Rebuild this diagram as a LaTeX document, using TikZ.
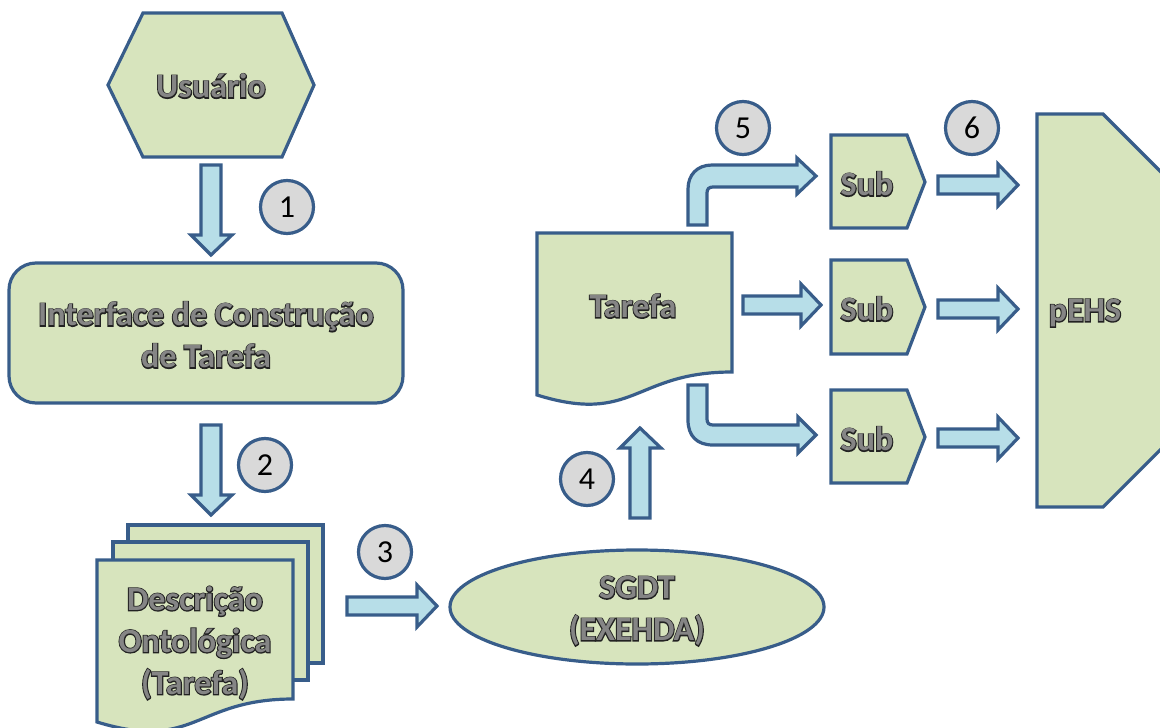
\documentclass[tikz,border=0pt]{standalone}
\usepackage{fontspec}
\setmainfont{Carlito}
\newfontfamily\lblfont{Carlito}
\newfontfamily\lblfontfb{Carlito}[UprightFeatures={FakeBold=6},BoldFeatures={FakeBold=6}]

\definecolor{fillg}{HTML}{D7E4BD}
\definecolor{edgeb}{HTML}{385D8A}
\definecolor{arrb}{HTML}{B7DEE8}
\definecolor{circg}{HTML}{D9D9D9}
\definecolor{txtg}{HTML}{858585}
\definecolor{txtd}{HTML}{222222}

% outlined label text: a dark emboldened copy under a grey copy
\newcommand{\olt}[1]{\leavevmode\rlap{\color{txtd}\lblfontfb\bfseries #1}{\color{txtg}\lblfont\bfseries #1}}

% straight block arrows: shaft half-width 9, head half-width 21, head length 20
\newcommand{\harrow}[3]{\draw[barr] (#1,#3-9) -- (#2-20,#3-9) -- (#2-20,#3-21) -- (#2,#3) -- (#2-20,#3+21) -- (#2-20,#3+9) -- (#1,#3+9) -- cycle;}
\newcommand{\darrow}[3]{\draw[barr] (#1-10,#2) -- (#1-10,#3-20) -- (#1-20,#3-20) -- (#1,#3) -- (#1+21,#3-20) -- (#1+10,#3-20) -- (#1+10,#2) -- cycle;}
\newcommand{\uarrow}[3]{\draw[barr] (#1-10,#2) -- (#1-10,#3+20) -- (#1-20,#3+20) -- (#1,#3) -- (#1+21,#3+20) -- (#1+10,#3+20) -- (#1+10,#2) -- cycle;}

\tikzset{
  shp/.style={draw=edgeb, fill=fillg, line width=3.2pt, line join=miter},
  barr/.style={draw=edgeb, fill=arrb, line width=3.2pt, line join=miter},
  lbl/.style={font=\fontsize{34}{42}\selectfont, align=center, inner sep=0pt},
  num/.style={circle, draw=edgeb, fill=circg, line width=3.2pt, minimum size=53pt,
              inner sep=0pt, font=\fontsize{32}{32}\selectfont, text=black}
}

\begin{document}
\begin{tikzpicture}[x=1pt,y=-1pt]
\useasboundingbox (0,0) rectangle (1160,728);
\clip (0,0) rectangle (1160,728);

% user hexagon
\draw[shp] (143,13) -- (282,13) -- (314,85) -- (282,157) -- (143,157) -- (108,85) -- cycle;
\node[lbl] (usr) at (211,86) {\olt{Usuário}};

% task-building interface
\draw[shp, rounded corners=27pt] (9,263) rectangle (403,403);
\node[lbl] (ui) at (206,335) {\olt{Interface de Construção}\\\olt{de Tarefa}};

% stacked ontology documents
\draw[shp] (128,525) rectangle (323,663);
\draw[shp] (113,542) rectangle (308,680);
\draw[shp] (97,560) -- (293,560) -- (293,699) .. controls (195,699) and (195,752) .. (97,722) -- cycle;
\node[lbl] (desc) at (195,643) {\olt{Descrição}\\\olt{Ontológica}\\\olt{(Tarefa)}};

% SGDT ellipse
\draw[shp] (637,607) ellipse [x radius=187, y radius=57];
\node[lbl] (sgdt) at (637,611) {\olt{SGDT}\\\olt{(EXEHDA)}};

% task document
\draw[shp] (537,233) -- (732,233) -- (732,372) .. controls (634,372) and (634,425) .. (537,395) -- cycle;
\node[lbl] (tar) at (633,306) {\olt{Tarefa}};

% sub-tasks
\foreach \t/\m/\b/\nm in {135/182/228/s1, 260/307/354/s2, 390/437/483/s3}{
  \draw[shp] (831,\t) -- (907,\t) -- (925,\m) -- (907,\b) -- (831,\b) -- cycle;
  \node[lbl] (\nm) at (867,\m+2) {\olt{Sub}};
}

% pEHS
\draw[shp] (1037,114) -- (1103,114) -- (1175,186) -- (1175,435) -- (1103,507) -- (1037,507) -- cycle;
\node[lbl] (pehs) at (1085,313) {\olt{pEHS}};

% block arrows
\darrow{211}{165}{255}
\darrow{211}{425}{515}
\harrow{347}{437}{606}
\uarrow{640}{518}{428}
\draw[barr] (688,225) -- (688,189) .. controls (688,175) and (697,165) .. (712,165) -- (797,165) -- (797,158) -- (816,176) -- (797,194) -- (797,187) -- (713,187) .. controls (709,187) and (707,189) .. (707,193) -- (707,225) -- cycle;
\harrow{743}{821}{305}
\draw[barr] (688,385) -- (688,420) .. controls (688,436) and (697,445) .. (713,445) -- (798,445) -- (798,453) -- (816,435) -- (798,417) -- (798,425) -- (713,425) .. controls (709,425) and (707,423) .. (707,419) -- (707,385) -- cycle;
\harrow{938}{1018}{185}
\harrow{938}{1018}{309}
\harrow{938}{1018}{438}

% step numbers
\node[num] (n1) at (287,207) {1};
\node[num] (n2) at (265,465) {2};
\node[num] (n3) at (385,552) {3};
\node[num] (n4) at (587,479) {4};
\node[num] (n5) at (743,128) {5};
\node[num] (n6) at (972,128) {6};
\end{tikzpicture}
\end{document}
